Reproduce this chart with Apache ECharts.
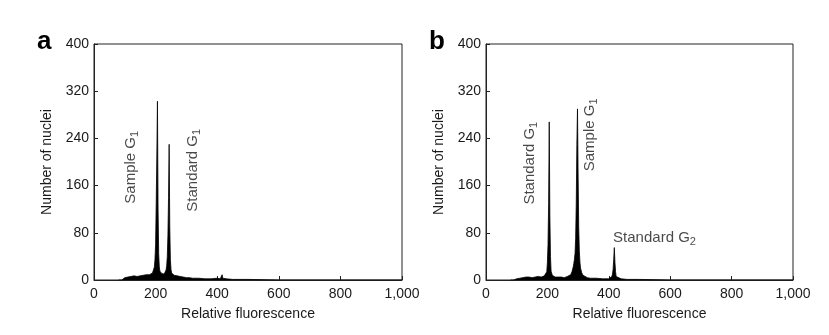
<!DOCTYPE html>
<html><head><meta charset="utf-8">
<script src="https://cdn.jsdelivr.net/npm/echarts@6/dist/echarts.min.js"></script>
<style>html,body{margin:0;padding:0;background:#fff}#c{width:829px;height:335px}</style>
</head><body><div id="c"></div>
<script>
// Panel a histogram (relative fluorescence channel, nuclei count)
const aX = [80,90,100,105,110,115,120,125,130,135,140,145,150,155,160,165,170,175,180,186,190,194,196,198,200,202,204,206,208,210,212,214,216,220,224,228,232,234,236,238,240,242,244,246,248,250,252,256,260,265,270,275,280,290,300,310,320,340,360,380,400,410,414,416,418,420,430,450,500,600,1000];
const aY = [0,0,4,6,5,7,6,5,7,5,6,8,7,6,8,7,9,8,9,10,12,15,22,35,60,130,210,303,120,45,22,15,12,11,13,10,13,17,24,40,75,140,230,90,35,18,12,10,8,9,7,6,6,5,4,4,3,3,2,2,3,2,3,9,3,2,2,1,1,0,0];
// Panel b histogram
const bX = [80,90,100,105,110,115,120,125,130,135,140,145,150,155,160,165,170,175,180,185,190,196,198,200,202,204,206,208,210,212,216,220,225,230,235,240,245,250,255,260,265,270,276,280,284,286,288,290,292,294,296,298,300,302,304,306,308,312,316,320,330,340,360,380,400,406,410,412,414,416,418,420,422,424,428,440,460,500,600,1000];
const bY = [0,0,2,3,3,5,4,6,5,7,5,4,4,6,5,7,6,5,5,7,7,9,14,30,60,130,268,110,40,15,8,6,5,6,5,4,5,5,4,5,6,6,9,14,22,28,35,45,70,130,230,290,180,90,50,30,20,12,8,6,4,3,3,2,2,3,6,10,18,35,55,30,14,6,3,2,1,1,0,0];
// Tick values
const yTicks = [0,80,160,240,320,400];
const xTicks = [0,200,400,600,800,1000];
// Peak annotations: [x, y, text, subscript, rotated]
const aLabels = [[120,191,'Sample G','1',true],[321,186,'Standard G','1',true]];
const bLabels = [[143,198,'Standard G','1',true],[339,246,'Sample G','1',true],[414,71,'Standard G','2',false]];

const FONT = 'Liberation Sans, Arial, Helvetica, sans-serif';
const TXT = '#1a1a1a';
const pairs = (xs, ys) => xs.map((x,i)=>[x, ys[i]]);

function xAxis(gi){
  return {gridIndex:gi,type:'value',min:xTicks[0],max:xTicks[xTicks.length-1],interval:xTicks[1]-xTicks[0],
    name:'Relative fluorescence',nameLocation:'middle',nameGap:27,
    nameTextStyle:{fontFamily:FONT,fontSize:14,color:TXT},
    axisLine:{lineStyle:{color:'#222',width:1}},axisTick:{show:true,inside:true,length:4,lineStyle:{color:'#222'}},
    axisLabel:{fontFamily:FONT,fontSize:14,color:TXT,margin:7,formatter:v=>v>=1000?v.toLocaleString('en-US'):String(v)},
    splitLine:{show:false}};
}
function yAxis(gi){
  return {gridIndex:gi,type:'value',min:yTicks[0],max:yTicks[yTicks.length-1],interval:yTicks[1]-yTicks[0],
    name:'Number of nuclei',nameLocation:'middle',nameGap:40,
    nameTextStyle:{fontFamily:FONT,fontSize:14,color:TXT},
    axisLine:{lineStyle:{color:'#222',width:1}},axisTick:{show:true,inside:true,length:4,lineStyle:{color:'#222'}},
    axisLabel:{fontFamily:FONT,fontSize:14,color:TXT,margin:5},
    splitLine:{show:false}};
}
function histSeries(gi, xs, ys){
  return {type:'line',xAxisIndex:gi,yAxisIndex:gi,data:pairs(xs,ys),symbol:'none',
    lineStyle:{color:'#000',width:0.8},areaStyle:{color:'#000',opacity:1},silent:true,z:3};
}
function labelSeries(gi, labs){
  return {type:'scatter',xAxisIndex:gi,yAxisIndex:gi,symbolSize:0,silent:true,z:5,
    data:labs.map(l=>({value:[l[0],l[1]],
      label:{show:true,position:l[4]?'inside':'right',distance:0,rotate:l[4]?90:0,
        formatter:'{n|'+l[2]+'}{s|'+l[3]+'}',
        rich:{n:{fontFamily:FONT,fontSize:15,color:TXT,lineHeight:19},
              s:{fontFamily:FONT,fontSize:11,color:TXT,lineHeight:19,padding:[8,0,0,0]}}}}))};
}

const chart = echarts.init(document.getElementById('c'), null, {renderer:'canvas'});
chart.setOption({
  animation:false,
  grid:[
    {left:94,right:427,top:44,bottom:55,show:true,borderColor:'#222',borderWidth:1,backgroundColor:'transparent'},
    {left:486,right:36,top:44,bottom:55,show:true,borderColor:'#222',borderWidth:1,backgroundColor:'transparent'}
  ],
  xAxis:[xAxis(0),xAxis(1)],
  yAxis:[yAxis(0),yAxis(1)],
  graphic:[
    {type:'text',left:37,top:29,style:{text:'a',font:'bold 26px '+FONT,fill:'#000'}},
    {type:'text',left:429,top:29,style:{text:'b',font:'bold 26px '+FONT,fill:'#000'}}
  ],
  series:[histSeries(0,aX,aY),histSeries(1,bX,bY),labelSeries(0,aLabels),labelSeries(1,bLabels)]
});
</script></body></html>
